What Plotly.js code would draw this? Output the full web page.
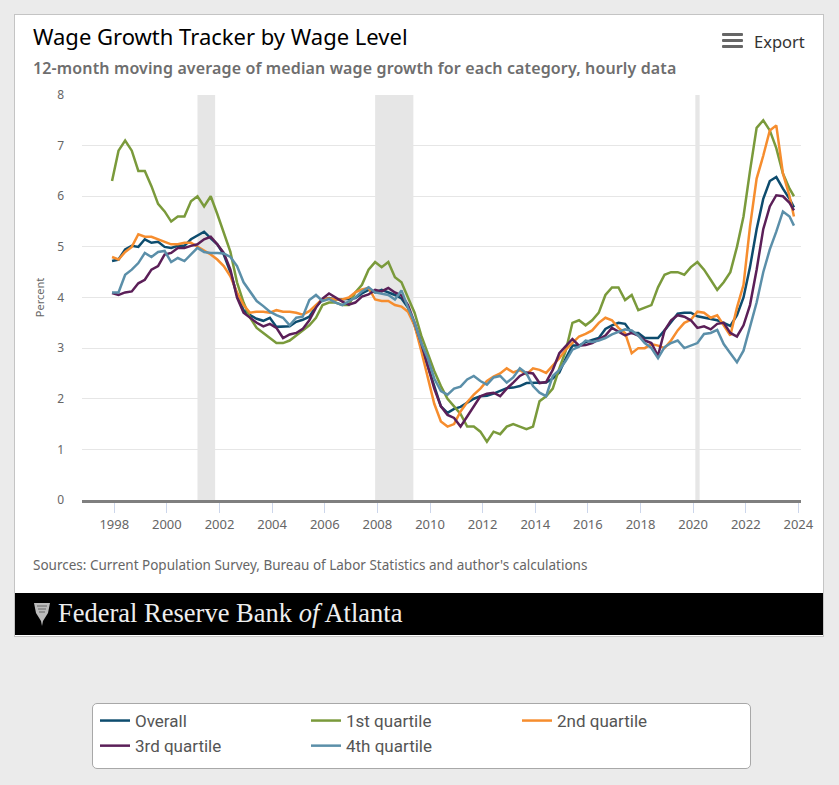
<!DOCTYPE html>
<html>
<head>
<meta charset="utf-8">
<script src="https://cdn.plot.ly/plotly-3.0.1.min.js"></script>
<style>
  html, body { margin:0; padding:0; background:#ebebeb; width:839px; height:785px; overflow:hidden; font-family:"Noto Sans", sans-serif; }
  #card { position:absolute; left:14px; top:14px; width:808px; height:621px; background:#fff; border:1px solid #c4c4c4; }
  #title { position:absolute; left:33px; top:22px; font-size:22px; color:#000; line-height:28px; white-space:nowrap; }
  #subtitle { position:absolute; left:33px; top:57px; font-size:16px; font-weight:600; color:#6e6e6e; line-height:22px; white-space:nowrap; letter-spacing:0.13px; }
  #export { position:absolute; left:754px; top:31px; font-size:16.5px; color:#333; line-height:22px; }
  .bar { position:absolute; left:722px; width:21px; height:3px; background:#666; border-radius:1px; }
  #sources { position:absolute; left:33px; top:556px; font-size:13.5px; color:#666; line-height:18px; white-space:nowrap; }
  #footer { position:absolute; left:15px; top:593px; width:808px; height:42px; background:#000; }
  #footer .name { position:absolute; left:43px; top:5px; font-family:"Liberation Serif", serif; font-size:26.5px; color:#eee; line-height:30px; white-space:nowrap; }
  #footer svg { position:absolute; left:18px; top:8px; }
  #legendbox { position:absolute; left:92px; top:703px; width:657px; height:64px; background:#fff; border:1px solid #a8a8a8; border-radius:5px; }
  #chart { position:absolute; left:0; top:0; width:839px; height:785px; }
</style>
</head>
<body>
<div id="card"></div>
<div id="title">Wage Growth Tracker by Wage Level</div>
<div id="subtitle">12-month moving average of median wage growth for each category, hourly data</div>
<div class="bar" style="top:33px"></div>
<div class="bar" style="top:39px"></div>
<div class="bar" style="top:45px"></div>
<div id="export">Export</div>
<div id="sources">Sources: Current Population Survey, Bureau of Labor Statistics and author's calculations</div>
<div id="footer">
  <svg width="18" height="26" viewBox="0 0 18 26"><path d="M1,2 L17,2 L15,12 L10,20 L9,25 L8,20 L3,12 Z" fill="#bbb"/><path d="M4,5 L14,5 M5,8 L13,8 M6,11 L12,11" stroke="#666" stroke-width="1"/></svg>
  <div class="name">Federal Reserve Bank <i>of</i> Atlanta</div>
</div>
<div id="legendbox"></div>
<div id="chart"></div>
<script>
// Quarterly observations (Dec 1997 – Nov 2023), values in percent
const dates = [
  "1997-12-01",
  "1998-03-01","1998-06-01","1998-09-01","1998-12-01",
  "1999-03-01","1999-06-01","1999-09-01","1999-12-01",
  "2000-03-01","2000-06-01","2000-09-01","2000-12-01",
  "2001-03-01","2001-06-01","2001-09-01","2001-12-01",
  "2002-03-01","2002-06-01","2002-09-01","2002-12-01",
  "2003-03-01","2003-06-01","2003-09-01","2003-12-01",
  "2004-03-01","2004-06-01","2004-09-01","2004-12-01",
  "2005-03-01","2005-06-01","2005-09-01","2005-12-01",
  "2006-03-01","2006-06-01","2006-09-01","2006-12-01",
  "2007-03-01","2007-06-01","2007-09-01","2007-12-01",
  "2008-03-01","2008-06-01","2008-09-01","2008-12-01",
  "2009-03-01","2009-06-01","2009-09-01","2009-12-01",
  "2010-03-01","2010-06-01","2010-09-01","2010-12-01",
  "2011-03-01","2011-06-01","2011-09-01","2011-12-01",
  "2012-03-01","2012-06-01","2012-09-01","2012-12-01",
  "2013-03-01","2013-06-01","2013-09-01","2013-12-01",
  "2014-03-01","2014-06-01","2014-09-01","2014-12-01",
  "2015-03-01","2015-06-01","2015-09-01","2015-12-01",
  "2016-03-01","2016-06-01","2016-09-01","2016-12-01",
  "2017-03-01","2017-06-01","2017-09-01","2017-12-01",
  "2018-03-01","2018-06-01","2018-09-01","2018-12-01",
  "2019-03-01","2019-06-01","2019-09-01","2019-12-01",
  "2020-03-01","2020-06-01","2020-09-01","2020-12-01",
  "2021-03-01","2021-06-01","2021-09-01","2021-12-01",
  "2022-03-01","2022-06-01","2022-09-01","2022-12-01",
  "2023-03-01","2023-06-01","2023-09-01","2023-11-01"
];

const overall = [
  4.72,
  4.75,4.95,5.02,5.00, 5.15,5.08,5.10,5.00, 4.98,5.02,5.02,5.15, 5.22,5.30,5.17,5.05,
  4.85,4.50,4.05,3.75, 3.65,3.58,3.54,3.60, 3.42,3.43,3.43,3.52, 3.56,3.62,3.82,3.96,
  3.99,3.96,3.96,3.97, 3.99,4.08,4.15,4.10, 4.15,4.10,4.05,3.98, 3.80,3.45,3.05,2.65,
  2.25,1.85,1.72,1.80, 1.84,1.92,2.00,2.05, 2.06,2.10,2.15,2.21, 2.22,2.25,2.31,2.31,
  2.31,2.32,2.40,2.52, 2.80,3.05,3.05,3.12, 3.16,3.20,3.38,3.45, 3.50,3.48,3.30,3.30,
  3.20,3.20,3.20,3.35, 3.52,3.68,3.70,3.70, 3.63,3.60,3.58,3.55, 3.50,3.44,3.65,4.00,
  4.60,5.35,5.95,6.30, 6.38,6.15,5.95,5.78
];
const q1 = [
  6.30,
  6.90,7.10,6.90,6.50, 6.50,6.20,5.85,5.70, 5.50,5.60,5.60,5.90, 6.00,5.80,6.00,5.65,
  5.30,4.90,4.30,3.90, 3.60,3.40,3.30,3.20, 3.10,3.10,3.15,3.25, 3.35,3.45,3.60,3.85,
  3.90,3.90,3.85,3.85, 4.10,4.25,4.55,4.70, 4.60,4.70,4.40,4.30, 4.00,3.70,3.25,2.90,
  2.55,2.25,2.00,1.85, 1.70,1.45,1.45,1.35, 1.15,1.35,1.30,1.45, 1.50,1.45,1.40,1.45,
  1.95,2.05,2.20,2.60, 2.95,3.50,3.55,3.45, 3.55,3.70,4.05,4.20, 4.20,3.95,4.05,3.75,
  3.80,3.85,4.20,4.45, 4.50,4.50,4.45,4.60, 4.70,4.55,4.35,4.15, 4.30,4.50,5.00,5.60,
  6.50,7.35,7.50,7.30, 6.95,6.45,6.15,6.00
];
const q2 = [
  4.80,
  4.75,4.90,5.00,5.25, 5.20,5.20,5.15,5.10, 5.05,5.05,5.08,5.08, 5.00,4.92,4.85,4.75,
  4.62,4.42,4.10,3.85, 3.70,3.72,3.72,3.70, 3.75,3.72,3.72,3.70, 3.66,3.73,3.86,3.97,
  3.98,3.96,3.96,4.00, 4.10,4.16,4.19,3.96, 3.93,3.93,3.85,3.82, 3.72,3.45,2.95,2.45,
  1.90,1.55,1.45,1.50, 1.75,1.93,2.08,2.20, 2.35,2.44,2.50,2.60, 2.52,2.57,2.48,2.60,
  2.57,2.51,2.66,2.80, 2.97,3.10,3.23,3.28, 3.35,3.50,3.60,3.55, 3.40,3.30,2.90,3.00,
  3.00,3.08,3.05,3.00, 3.15,3.35,3.50,3.56, 3.72,3.70,3.60,3.65, 3.45,3.25,3.80,4.25,
  5.40,6.35,6.80,7.30, 7.40,6.45,6.00,5.60
];
const q3 = [
  4.09,
  4.05,4.10,4.12,4.28, 4.35,4.55,4.62,4.85, 4.88,4.98,4.98,5.02, 5.05,5.15,5.20,5.05,
  4.88,4.55,4.00,3.70, 3.60,3.50,3.43,3.48, 3.40,3.20,3.27,3.30, 3.38,3.55,3.80,3.98,
  4.08,4.00,3.92,3.86, 3.90,4.02,4.06,4.15, 4.12,4.19,4.10,4.04, 3.85,3.50,3.10,2.65,
  2.20,1.85,1.68,1.62, 1.45,1.65,1.85,2.05, 2.10,2.12,2.05,2.20, 2.32,2.45,2.52,2.50,
  2.31,2.33,2.57,2.90, 3.04,3.18,3.05,3.06, 3.10,3.17,3.25,3.40, 3.32,3.25,3.30,3.25,
  3.15,3.10,2.85,3.35, 3.55,3.65,3.62,3.55, 3.40,3.43,3.37,3.48, 3.50,3.30,3.23,3.45,
  3.85,4.55,5.35,5.80, 6.02,6.00,5.87,5.72
];
const q4 = [
  4.10,
  4.10,4.45,4.55,4.68, 4.88,4.80,4.90,4.92, 4.70,4.78,4.72,4.85, 4.98,4.90,4.88,4.88,
  4.87,4.80,4.62,4.30, 4.12,3.93,3.83,3.72, 3.65,3.60,3.45,3.60, 3.62,3.95,4.05,3.93,
  3.97,3.90,3.85,3.92, 4.00,4.12,4.20,4.10, 4.08,4.05,3.96,4.14, 3.80,3.50,3.10,2.80,
  2.40,2.15,2.08,2.20, 2.24,2.38,2.45,2.35, 2.28,2.42,2.45,2.32, 2.42,2.60,2.50,2.25,
  2.12,2.05,2.45,2.57, 2.75,2.97,3.03,3.15, 3.12,3.15,3.20,3.27, 3.32,3.37,3.35,3.25,
  3.10,3.00,2.80,3.02, 3.10,3.15,3.00,3.05, 3.10,3.28,3.30,3.36, 3.08,2.90,2.72,2.95,
  3.40,3.90,4.50,4.95, 5.30,5.70,5.60,5.42
];

const seriesNames = ["Overall","1st quartile","2nd quartile","3rd quartile","4th quartile"];
const seriesColors = ["#0d4c6e","#7a9a3b","#f68d2e","#5b1f58","#5b8fa9"];
const seriesValues = [overall, q1, q2, q3, q4];

// Recessions (shaded)
const recessionStarts = ["2001-03-01","2007-12-01","2020-02-01"];
const recessionEnds   = ["2001-11-01","2009-05-15","2020-04-01"];

const yTicks = [0,1,2,3,4,5,6,7,8];

const traces = seriesValues.map((v,i) => ({
  type:"scatter", mode:"lines", x:dates, y:v, name:seriesNames[i],
  line:{color:seriesColors[i], width:2.5}, hoverinfo:"x+y+name"
}));

const shapes = recessionStarts.map((s,i) => ({
  type:"rect", xref:"x", yref:"paper", x0:s, x1:recessionEnds[i], y0:0, y1:1,
  fillcolor:"#e6e6e6", line:{width:0}, layer:"below"
}));

const layout = {
  width:839, height:785,
  margin:{l:82, r:38, t:95, b:285, pad:0},
  paper_bgcolor:"rgba(0,0,0,0)", plot_bgcolor:"rgba(0,0,0,0)",
  font:{family:"Noto Sans, sans-serif", color:"#666"},
  showlegend:true,
  xaxis:{
    type:"date", range:["1996-10-10","2024-02-07"],
    tick0:"1998-01-01", dtick:"M24", tickformat:"%Y",
    showgrid:false, zeroline:false,
    showline:true, linecolor:"#7f7f7f", linewidth:3,
    ticks:"outside", ticklen:10, tickcolor:"#ccd6eb", tickwidth:1,
    tickfont:{size:13, color:"#666"}
  },
  yaxis:{
    range:[0,8], tickvals:yTicks, showgrid:true, gridcolor:"#e6e6e6", gridwidth:1,
    zeroline:false, showline:false, ticks:"", ticklabelstandoff:17,
    tickfont:{size:12, color:"#666"},
    title:{text:"Percent", font:{size:11, color:"#666"}, standoff:10}
  },
  shapes:shapes,
  legend:{
    orientation:"h", xref:"container", yref:"container",
    x:95/839, y:1-703/785, xanchor:"left", yanchor:"top",
    entrywidth:166, entrywidthmode:"pixels", itemwidth:30,
    bgcolor:"rgba(0,0,0,0)", borderwidth:0, traceorder:"normal",
    font:{family:"Liberation Sans Narrow, Roboto, sans-serif", size:17, color:"#555"}
  }
};

Plotly.newPlot("chart", traces, layout, {displayModeBar:false, staticPlot:true});
</script>
</body>
</html>
